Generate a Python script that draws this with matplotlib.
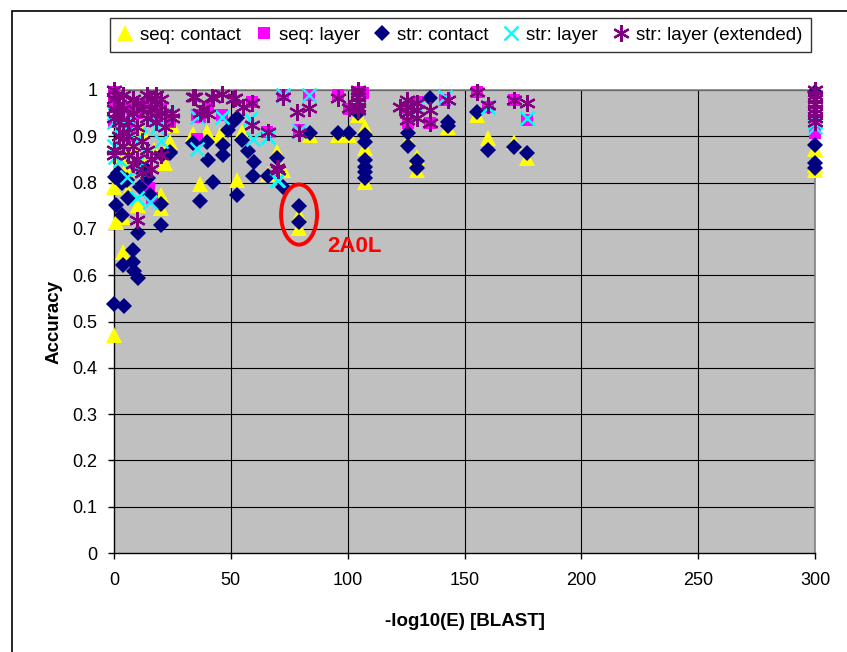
import matplotlib
matplotlib.use("Agg")
import matplotlib.pyplot as plt
from matplotlib.patches import Ellipse, Rectangle
from matplotlib.lines import Line2D

plt.rcParams['font.family'] = ['Liberation Sans', 'DejaVu Sans']

# ---------------- data ----------------
seq_contact_x = [0, 0, 0.9, 3.9, 3.9, 10.2, 20, 20, 21.8, 24, 24.8, 33.8, 39.8, 36.8, 45.4,
                 52.6, 54.8, 65.9, 69.7, 72.3, 79.2, 79.2, 83.9, 95.8, 100.5, 104.4,
                 107.4, 107.4, 107.4, 125.8, 129.7, 129.7, 142.9, 155.3, 160, 171, 176.7,
                 300, 300, 300, 2, 5, 8, 12, 15, 17, 6, 13]
seq_contact_y = [0.471, 0.79, 0.715, 0.726, 0.650, 0.752, 0.773, 0.745, 0.842, 0.888, 0.924,
                 0.905, 0.909, 0.797, 0.903, 0.806, 0.909, 0.818, 0.866, 0.827, 0.730, 0.702,
                 0.903, 0.903, 0.903, 0.946, 0.92, 0.875, 0.801, 0.892, 0.855, 0.827, 0.920,
                 0.946, 0.896, 0.888, 0.853, 0.873, 0.838, 0.828, 0.86, 0.83, 0.88, 0.91,
                 0.80, 0.87, 0.78, 0.84]

seq_layer_x = [0, 0, 0, 2, 5, 5, 8, 10, 10, 13, 15, 16.2, 17, 18.4, 20, 24, 35.5, 36.8,
               35.5, 40.2, 46.2, 59, 65.5, 72.3, 79.2, 83.4, 95.8, 100.5, 104, 106.5,
               125.8, 125.8, 129.7, 135.2, 141.6, 155.3, 160, 171, 176.7, 300, 300]
seq_layer_y = [0.93, 0.97, 0.995, 0.95, 0.96, 0.90, 0.92, 0.832, 0.95, 0.97, 0.788, 0.767,
               0.94, 0.937, 0.96, 0.93, 0.946, 0.942, 0.894, 0.963, 0.946, 0.974, 0.909,
               0.989, 0.914, 0.989, 0.989, 0.959, 0.996, 0.993, 0.961, 0.929, 0.974, 0.929,
               0.978, 0.996, 0.963, 0.978, 0.935, 0.907, 0.92]

str_contact_x = [0, 4.3, 8.1, 3.9, 8.1, 8.6, 10.2, 10.2, 20, 3.3, 0.9, 6, 20, 15.4, 0.4,
                 3.3, 11, 14.5, 36.8, 42.4, 52.6, 59.5, 66, 24, 20.5, 33.8, 39.8, 40.2,
                 46.6, 46.6, 54.8, 57.3, 59.9, 48.8, 50.9, 52.6, 69.7, 72.3, 79.2, 79.2,
                 83.9, 95.8, 100.5, 104.4, 107.4, 107.4, 107.4, 107.4, 107.4, 107.4,
                 125.8, 125.8, 129.7, 129.7, 135.2, 142.9, 142.9, 155.3, 160, 171, 176.7,
                 300, 300, 300, 300, 1.5, 5.5, 10, 14, 24]
str_contact_y = [0.538, 0.533, 0.654, 0.622, 0.628, 0.609, 0.594, 0.691, 0.708, 0.730,
                 0.752, 0.767, 0.754, 0.773, 0.812, 0.799, 0.79, 0.81, 0.760, 0.801, 0.773,
                 0.814, 0.814, 0.864, 0.86, 0.885, 0.888, 0.849, 0.881, 0.86, 0.892, 0.868,
                 0.845, 0.914, 0.931, 0.940, 0.853, 0.79, 0.749, 0.715, 0.907, 0.907, 0.907,
                 0.950, 0.903, 0.888, 0.849, 0.834, 0.823, 0.810, 0.907, 0.879, 0.847, 0.832,
                 0.983, 0.931, 0.922, 0.952, 0.870, 0.877, 0.864, 0.996, 0.881, 0.842, 0.832,
                 0.82, 0.806, 0.834, 0.827, 0.866]

str_layer_x = [0, 0, 0, 0.4, 2, 2.6, 3.4, 5.5, 6, 6.8, 9.8, 10, 11.1, 14.1, 15.4, 15.4,
               18.4, 20, 22.7, 35.5, 35.5, 46.2, 58.2, 59.5, 65.9, 69.7, 70.2, 72.3, 79.2,
               83.4, 104.5, 125.8, 129.7, 141.6, 160, 176.7, 300, 300]
str_layer_y = [0.95, 0.93, 0.88, 0.855, 0.92, 0.849, 0.924, 0.812, 0.907, 0.935, 0.767,
               0.83, 0.898, 0.864, 0.758, 0.931, 0.92, 0.89, 0.950, 0.942, 0.873, 0.942,
               0.937, 0.894, 0.898, 0.806, 0.806, 0.989, 0.912, 0.989, 0.978, 0.957, 0.963,
               0.985, 0.963, 0.94, 0.93, 0.92]

str_ext_x = [0, 0, 0, 0, 0, 0, 1, 1, 2, 2, 2, 4, 4, 4, 4, 6, 6, 6, 8, 8, 8, 8, 10, 10, 10,
             10, 12, 12, 12, 14, 14, 14, 16, 16, 16, 16, 18, 18, 18, 20, 20, 20, 22, 22,
             25, 25, 33.8, 34.7, 36.8, 38.1, 40.2, 41.9, 42.4, 46.2, 51, 51.8, 55.2, 59,
             59, 65.9, 69.7, 70.2, 72.3, 78.3, 79.2, 83.4, 95.8, 100.5, 104.5, 104.5,
             104.5, 104.5, 104.5, 104.5, 122.4, 125.4, 125.4, 125.4, 125.4, 129.7, 129.7,
             129.7, 135.2, 135.2, 142.9, 155.3, 160, 171, 176.7,
             300, 300, 300, 300, 300, 300, 300, 300]
str_ext_y = [1.0, 0.98, 0.96, 0.94, 0.87, 0.86, 0.99, 0.95, 0.97, 0.93, 0.90, 0.99, 0.96,
             0.91, 0.88, 0.93, 0.90, 0.86, 0.98, 0.95, 0.88, 0.84, 0.97, 0.92, 0.85, 0.72,
             0.96, 0.89, 0.82, 0.99, 0.94, 0.87, 0.98, 0.96, 0.85, 0.83, 0.99, 0.97, 0.93,
             0.98, 0.95, 0.86, 0.95, 0.92, 0.95, 0.94, 0.985, 0.985, 0.950, 0.959, 0.948,
             0.985, 0.983, 0.992, 0.981, 0.983, 0.963, 0.972, 0.924, 0.909, 0.832, 0.827,
             0.985, 0.952, 0.907, 0.961, 0.983, 0.961, 1.0, 0.993, 0.985, 0.974, 0.963,
             0.957, 0.963, 0.978, 0.963, 0.95, 0.935, 0.972, 0.957, 0.94, 0.957, 0.929,
             0.978, 0.996, 0.967, 0.978, 0.972,
             1.0, 0.99, 0.98, 0.97, 0.96, 0.95, 0.94, 0.93]

x_ticks = [0, 50, 100, 150, 200, 250, 300]
y_ticks = [0, 0.1, 0.2, 0.3, 0.4, 0.5, 0.6, 0.7, 0.8, 0.9, 1]
y_tick_labels = ['0', '0.1', '0.2', '0.3', '0.4', '0.5', '0.6', '0.7', '0.8', '0.9', '1']

# ---------------- styles ----------------
st_tri = dict(marker='^', color='#ffff00', ms=11, mew=0)
st_sq = dict(marker='s', color='#ff00ff', ms=8.5, mew=0)
st_dia = dict(marker='D', color='#000080', ms=8.2, mew=0)
st_x = dict(marker='x', color='#00ffff', ms=9.5, mew=1.8)
st_star = dict(marker=(6, 2, 0), color='#800080', ms=12, mew=1.6)

# ---------------- figure ----------------
W, H = 847, 652
fig = plt.figure(figsize=(W / 100, H / 100), dpi=100)
ax = fig.add_axes([114 / W, 1 - 553 / H, (815 - 114) / W, (553 - 90) / H])
ax.set_facecolor('#c0c0c0')
ax.set_xlim(0, 300)
ax.set_ylim(0, 1)

for y in y_ticks[1:]:
    ax.axhline(y, color='black', lw=0.8, zorder=1)
for x in x_ticks[1:-1]:
    ax.axvline(x, color='black', lw=0.8, zorder=1)

for s in ['top', 'right']:
    ax.spines[s].set_color('#808080')
    ax.spines[s].set_linewidth(1.2)
for s in ['left', 'bottom']:
    ax.spines[s].set_color('black')
    ax.spines[s].set_linewidth(1.0)

common = dict(linestyle='none', clip_on=False)
ax.plot(seq_contact_x, seq_contact_y, zorder=3, **st_tri, **common)
ax.plot(seq_layer_x, seq_layer_y, zorder=4, **st_sq, **common)
ax.plot(str_contact_x, str_contact_y, zorder=5, **st_dia, **common)
ax.plot(str_layer_x, str_layer_y, zorder=6, **st_x, **common)
ax.plot(str_ext_x, str_ext_y, zorder=7, **st_star, **common)

ax.set_xticks(x_ticks)
ax.set_yticks(y_ticks)
ax.set_yticklabels(y_tick_labels)
ax.tick_params(axis='both', direction='out', length=4, width=1, color='black',
               labelsize=13, colors='black')
ax.tick_params(axis='x', pad=10)
ax.tick_params(axis='y', pad=8)

ax.set_xlabel('-log10(E) [BLAST]', fontsize=13.5, fontweight='bold', labelpad=17)
ax.set_ylabel('Accuracy', fontsize=13.5, fontweight='bold', labelpad=7)

# annotation
ell = Ellipse((79.2, 0.731), width=15.4, height=0.13, fill=False, ec='#ff0000', lw=2.8, zorder=8)
ax.add_patch(ell)
ax.text(103, 0.661, '2A0L', color='#ff0000', fontsize=16, fontweight='bold',
        ha='center', va='center', zorder=8)

# legend
handles = [Line2D([], [], ls='none', **st_tri), Line2D([], [], ls='none', **st_sq),
           Line2D([], [], ls='none', **st_dia), Line2D([], [], ls='none', **st_x),
           Line2D([], [], ls='none', **st_star)]
labels = ['seq: contact', 'seq: layer', 'str: contact', 'str: layer', 'str: layer (extended)']
leg = fig.legend(handles, labels, loc='center', bbox_to_anchor=(460 / W, 1 - 35 / H),
                 ncol=5, fontsize=13.5, frameon=True, fancybox=False, shadow=False,
                 handlelength=0.8, handletextpad=0.4, columnspacing=0.8,
                 borderpad=0.45, borderaxespad=0)
leg.get_frame().set_edgecolor('black')
leg.get_frame().set_linewidth(1.0)

# chart frame
fig.patches.append(Rectangle((12 / W, -0.05), 1.1, 1 - 11 / H + 0.05,
                             transform=fig.transFigure, fill=False, ec='black', lw=1.2))

fig.savefig('out.png', dpi=100)
